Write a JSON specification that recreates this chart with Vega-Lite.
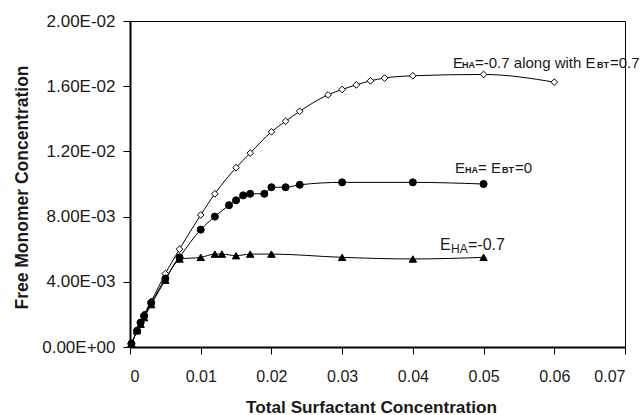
{
  "$schema": "https://vega.github.io/schema/vega-lite/v6.json",
  "width": 495,
  "height": 326,
  "autosize": {"type": "none"},
  "padding": {"left": 130, "top": 21, "right": 18, "bottom": 68},
  "background": "white",
  "config": {
    "view": {"stroke": "black", "strokeWidth": 1},
    "font": "Liberation Sans",
    "axis": {"grid": false, "domainColor": "black", "domainWidth": 2, "tickColor": "black", "tickWidth": 1, "labelColor": "#1a1a1a", "titleColor": "#1a1a1a", "labelFont": "Liberation Sans", "titleFont": "Liberation Sans"}
  },
  "datasets": {
    "pts": [
      {"series": "A", "x": 0.0002, "y": 0.0002},
      {"series": "A", "x": 0.001, "y": 0.001},
      {"series": "A", "x": 0.0015, "y": 0.0015},
      {"series": "A", "x": 0.002, "y": 0.002},
      {"series": "A", "x": 0.003, "y": 0.0028},
      {"series": "A", "x": 0.005, "y": 0.0045},
      {"series": "A", "x": 0.007, "y": 0.006},
      {"series": "A", "x": 0.01, "y": 0.0081},
      {"series": "A", "x": 0.012, "y": 0.0094},
      {"series": "A", "x": 0.015, "y": 0.011},
      {"series": "A", "x": 0.017, "y": 0.0119},
      {"series": "A", "x": 0.02, "y": 0.0132},
      {"series": "A", "x": 0.022, "y": 0.01385},
      {"series": "A", "x": 0.024, "y": 0.01446},
      {"series": "A", "x": 0.028, "y": 0.01547},
      {"series": "A", "x": 0.03, "y": 0.0158},
      {"series": "A", "x": 0.032, "y": 0.01608},
      {"series": "A", "x": 0.034, "y": 0.01633},
      {"series": "A", "x": 0.036, "y": 0.0165},
      {"series": "A", "x": 0.04, "y": 0.01664},
      {"series": "A", "x": 0.05, "y": 0.01672},
      {"series": "A", "x": 0.06, "y": 0.01625},
      {"series": "B", "x": 0.0002, "y": 0.0002},
      {"series": "B", "x": 0.001, "y": 0.001},
      {"series": "B", "x": 0.0015, "y": 0.0015},
      {"series": "B", "x": 0.002, "y": 0.0019},
      {"series": "B", "x": 0.003, "y": 0.0027},
      {"series": "B", "x": 0.005, "y": 0.0042},
      {"series": "B", "x": 0.007, "y": 0.0055},
      {"series": "B", "x": 0.01, "y": 0.0072},
      {"series": "B", "x": 0.012, "y": 0.008},
      {"series": "B", "x": 0.014, "y": 0.0087},
      {"series": "B", "x": 0.015, "y": 0.009},
      {"series": "B", "x": 0.016, "y": 0.0093},
      {"series": "B", "x": 0.017, "y": 0.0094},
      {"series": "B", "x": 0.019, "y": 0.0094},
      {"series": "B", "x": 0.02, "y": 0.0098},
      {"series": "B", "x": 0.022, "y": 0.0098},
      {"series": "B", "x": 0.024, "y": 0.00995},
      {"series": "B", "x": 0.03, "y": 0.0101},
      {"series": "B", "x": 0.04, "y": 0.0101},
      {"series": "B", "x": 0.05, "y": 0.01},
      {"series": "C", "x": 0.0002, "y": 0.0002},
      {"series": "C", "x": 0.001, "y": 0.001},
      {"series": "C", "x": 0.0015, "y": 0.0014},
      {"series": "C", "x": 0.002, "y": 0.0018},
      {"series": "C", "x": 0.003, "y": 0.0026},
      {"series": "C", "x": 0.005, "y": 0.0041},
      {"series": "C", "x": 0.007, "y": 0.0054},
      {"series": "C", "x": 0.01, "y": 0.0055},
      {"series": "C", "x": 0.012, "y": 0.0057},
      {"series": "C", "x": 0.013, "y": 0.0057},
      {"series": "C", "x": 0.015, "y": 0.0056},
      {"series": "C", "x": 0.017, "y": 0.0057},
      {"series": "C", "x": 0.02, "y": 0.0057},
      {"series": "C", "x": 0.03, "y": 0.0055},
      {"series": "C", "x": 0.04, "y": 0.0054},
      {"series": "C", "x": 0.05, "y": 0.0055}
    ],
    "labels": [
      {"label": "A", "x": 0.04568, "y": 0.0171},
      {"label": "B", "x": 0.04596, "y": 0.01066},
      {"label": "C", "x": 0.04384, "y": 0.00593}
    ]
  },
  "encoding": {
    "x": {"field": "x", "type": "quantitative", "scale": {"domain": [0, 0.07], "nice": false, "zero": false},
      "axis": {"values": [0, 0.01, 0.02, 0.03, 0.04, 0.05, 0.06, 0.07], "format": ".2~f", "labelFontSize": 16, "tickSize": 7, "labelPadding": 14,
        "title": "Total Surfactant Concentration", "titleFontSize": 17.2, "titleFontWeight": "bold", "titleX": 241, "titleY": 65, "titleBaseline": "alphabetic"}},
    "y": {"field": "y", "type": "quantitative", "scale": {"domain": [0, 0.02], "nice": false},
      "axis": {"values": [0, 0.004, 0.008, 0.012, 0.016, 0.02], "labelExpr": "replace(replace(upper(format(datum.value, '.2e')), 'E-', 'E-0'), 'E+', 'E+0')", "labelFontSize": 17, "tickSize": 7, "labelPadding": 8,
        "title": "Free Monomer Concentration", "titleFontSize": 17.5, "titleFontWeight": "bold", "titleX": -103, "titleY": 166, "titleBaseline": "alphabetic"}}
  },
  "layer": [
    {
      "data": {"name": "pts"},
      "mark": {"type": "line", "color": "black", "strokeWidth": 1, "interpolate": "monotone"},
      "encoding": {"detail": {"field": "series"}}
    },
    {
      "data": {"name": "pts"},
      "mark": {"type": "point", "filled": false, "stroke": "black", "strokeWidth": 1, "opacity": 1},
      "encoding": {
        "shape": {"field": "series", "type": "nominal", "scale": {"domain": ["A", "B", "C"], "range": ["diamond", "circle", "triangle-up"]}, "legend": null},
        "fill": {"field": "series", "type": "nominal", "scale": {"domain": ["A", "B", "C"], "range": ["white", "black", "black"]}, "legend": null},
        "size": {"field": "series", "type": "nominal", "scale": {"domain": ["A", "B", "C"], "range": [45, 55, 70]}, "legend": null}
      }
    },
    {"data": {"name": "labels"}, "transform": [{"filter": "datum.label == 'A'"}], "mark": {"type": "text", "text": "E", "align": "left", "baseline": "alphabetic", "fontSize": 15, "color": "#1a1a1a"}},
    {"data": {"name": "labels"}, "transform": [{"filter": "datum.label == 'A'"}], "mark": {"type": "text", "text": "HA", "align": "left", "baseline": "alphabetic", "fontSize": 9, "fontWeight": "bold", "dx": 9, "color": "#1a1a1a"}},
    {"data": {"name": "labels"}, "transform": [{"filter": "datum.label == 'A'"}], "mark": {"type": "text", "text": "=-0.7 along with E", "align": "left", "baseline": "alphabetic", "fontSize": 15, "dx": 22, "color": "#1a1a1a"}},
    {"data": {"name": "labels"}, "transform": [{"filter": "datum.label == 'A'"}], "mark": {"type": "text", "text": "BT", "align": "left", "baseline": "alphabetic", "fontSize": 9, "fontWeight": "bold", "dx": 144, "color": "#1a1a1a"}},
    {"data": {"name": "labels"}, "transform": [{"filter": "datum.label == 'A'"}], "mark": {"type": "text", "text": "=0.7", "align": "left", "baseline": "alphabetic", "fontSize": 15, "dx": 157, "color": "#1a1a1a"}},
    {"data": {"name": "labels"}, "transform": [{"filter": "datum.label == 'B'"}], "mark": {"type": "text", "text": "E", "align": "left", "baseline": "alphabetic", "fontSize": 15, "color": "#1a1a1a"}},
    {"data": {"name": "labels"}, "transform": [{"filter": "datum.label == 'B'"}], "mark": {"type": "text", "text": "HA", "align": "left", "baseline": "alphabetic", "fontSize": 9, "fontWeight": "bold", "dx": 10, "color": "#1a1a1a"}},
    {"data": {"name": "labels"}, "transform": [{"filter": "datum.label == 'B'"}], "mark": {"type": "text", "text": "= E", "align": "left", "baseline": "alphabetic", "fontSize": 15, "dx": 23, "color": "#1a1a1a"}},
    {"data": {"name": "labels"}, "transform": [{"filter": "datum.label == 'B'"}], "mark": {"type": "text", "text": "BT", "align": "left", "baseline": "alphabetic", "fontSize": 9, "fontWeight": "bold", "dx": 47, "color": "#1a1a1a"}},
    {"data": {"name": "labels"}, "transform": [{"filter": "datum.label == 'B'"}], "mark": {"type": "text", "text": "=0", "align": "left", "baseline": "alphabetic", "fontSize": 15, "dx": 60, "color": "#1a1a1a"}},
    {"data": {"name": "labels"}, "transform": [{"filter": "datum.label == 'C'"}], "mark": {"type": "text", "text": "E", "align": "left", "baseline": "alphabetic", "fontSize": 16, "color": "#1a1a1a"}},
    {"data": {"name": "labels"}, "transform": [{"filter": "datum.label == 'C'"}], "mark": {"type": "text", "text": "HA", "align": "left", "baseline": "alphabetic", "fontSize": 12, "dx": 11, "dy": 3, "color": "#1a1a1a"}},
    {"data": {"name": "labels"}, "transform": [{"filter": "datum.label == 'C'"}], "mark": {"type": "text", "text": "=-0.7", "align": "left", "baseline": "alphabetic", "fontSize": 16, "dx": 28, "color": "#1a1a1a"}}
  ]
}
